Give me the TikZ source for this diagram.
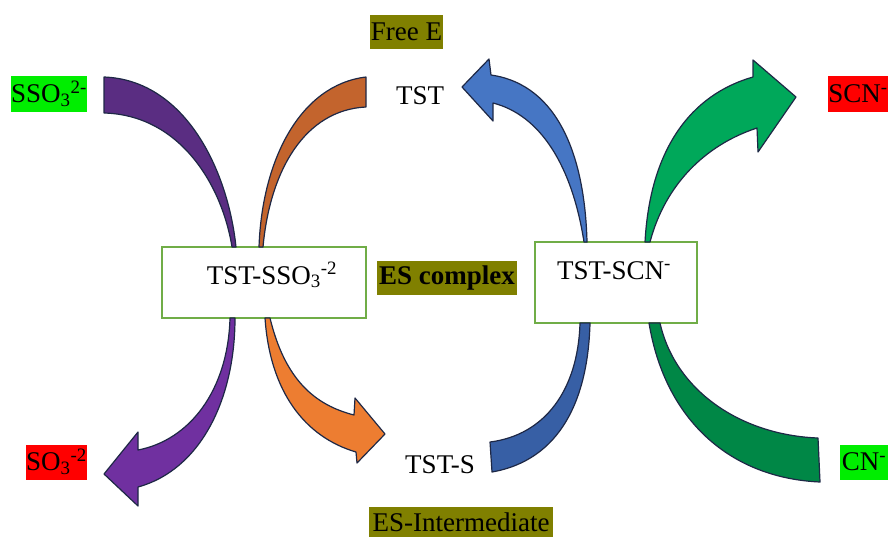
\documentclass[tikz,border=0pt]{standalone}
\usepackage{fontspec}
\setmainfont{Liberation Serif}
\definecolor{cOlive}{RGB}{128,128,0}
\definecolor{cLime}{RGB}{0,238,0}
\definecolor{cRed}{RGB}{255,0,0}
\definecolor{cBox}{RGB}{112,173,71}
\definecolor{cEdge}{RGB}{30,40,70}
\definecolor{cPurA}{RGB}{90,45,130}
\definecolor{cPurB}{RGB}{112,48,160}
\definecolor{cOrA}{RGB}{195,100,45}
\definecolor{cOrB}{RGB}{237,125,49}
\definecolor{cBlA}{RGB}{70,118,196}
\definecolor{cBlB}{RGB}{55,95,165}
\definecolor{cGrA}{RGB}{0,168,90}
\definecolor{cGrB}{RGB}{0,135,70}
\tikzset{
  lbl/.style={inner sep=0pt, font=\fontsize{27}{32}\selectfont},
  tag/.style={lbl, minimum width=#1},
  cbox/.style={draw=cBox, line width=1.5pt, fill=white},
  band/.style={draw=cEdge, line width=1.2pt, line join=round, fill=#1}
}
\begin{document}
\begin{tikzpicture}[x=1pt,y=-1pt]
\useasboundingbox (0,0) rectangle (890,536);
% complex boxes
\draw[cbox] (162,247) rectangle (366,318);
\draw[cbox] (535,242) rectangle (697,323);
\node[lbl, anchor=base] (c1) at (272,284) {TST-SSO\textsubscript{3}\textsuperscript{-2}};
\node[lbl, anchor=base] (c2) at (614,279) {TST-SCN\textsuperscript{-}};
% top-left purple band
\path[band=cPurA] (104,77) .. controls (185,80) and (228,170) .. (236,247)
  -- (232,247) .. controls (222,185) and (180,115) .. (104,113) -- cycle;
% top orange band
\path[band=cOrA] (366,77) .. controls (300,85) and (262,160) .. (259,247)
  -- (263,247) .. controls (270,170) and (305,110) .. (366,107) -- cycle;
% bottom purple arrow
\path[band=cPurB] (230,318) .. controls (228,390) and (190,440) .. (138,450)
  -- (138,432) -- (104,474) -- (138,506) -- (138,487)
  .. controls (200,470) and (235,400) .. (235,318) -- cycle;
% bottom orange arrow
\path[band=cOrB] (265,318) .. controls (270,392) and (305,437) .. (356,452)
  -- (357,463) -- (385,434) -- (355,398) -- (354,415)
  .. controls (315,405) and (285,380) .. (270,318) -- cycle;
% top blue arrow
\path[band=cBlA] (584,242) .. controls (572,165) and (540,115) .. (493,103)
  -- (493,121) -- (462,87) -- (489,59) -- (491,75)
  .. controls (560,85) and (585,160) .. (587,242) -- cycle;
% top green arrow
\path[band=cGrA] (645,242) .. controls (650,150) and (690,95) .. (753,77)
  -- (753,60) -- (796,97) -- (758,152) -- (757,128)
  .. controls (705,145) and (665,185) .. (650,242) -- cycle;
% bottom blue band
\path[band=cBlB] (580,323) .. controls (578,390) and (545,435) .. (490,442)
  -- (492,472) .. controls (560,460) and (588,400) .. (590,323) -- cycle;
% bottom green band
\path[band=cGrB] (649,323) .. controls (665,420) and (730,478) .. (820,482)
  -- (818,438) .. controls (740,435) and (675,390) .. (660,323) -- cycle;
% labels
\node[tag=73pt, minimum height=34pt, fill=cOlive] (free) at (406.5,31.5) {Free E};
\node[tag=74pt, minimum height=36pt, fill=cLime] (sso) at (49,94) {SSO\textsubscript{3}\textsuperscript{2-}};
\node[lbl, anchor=base] (tst) at (420,104) {TST};
\node[tag=60pt, minimum height=36pt, fill=cRed] (scn) at (858,94) {SCN\textsuperscript{-}};
\node[tag=140pt, minimum height=34pt, fill=cOlive, font=\fontsize{27}{32}\selectfont\bfseries] (es) at (447,278) {ES complex};
\node[tag=61pt, minimum height=35pt, fill=cRed] (so) at (56.5,462) {SO\textsubscript{3}\textsuperscript{-2}};
\node[lbl, anchor=base] (tsts) at (440,473) {TST-S};
\node[tag=48pt, minimum height=35pt, fill=cLime] (cn) at (864,462) {CN\textsuperscript{-}};
\node[tag=184pt, minimum height=30pt, fill=cOlive] (esi) at (461,522) {ES-Intermediate};
\end{tikzpicture}
\end{document}
